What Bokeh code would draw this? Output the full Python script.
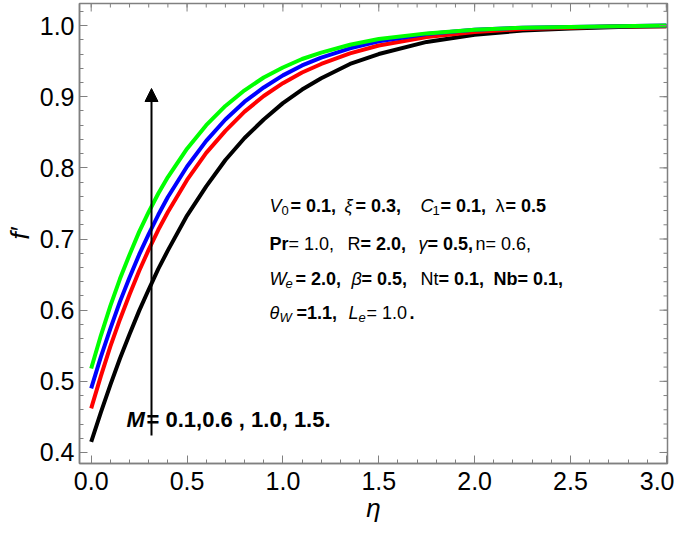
from bokeh.plotting import figure
from bokeh.models import Range1d, Label, Arrow, NormalHead, SingleIntervalTicker, NumeralTickFormatter
from bokeh.embed import file_html
from bokeh.resources import INLINE

# ---- data ----
eta = [0.0, 0.05, 0.1, 0.15, 0.2, 0.25, 0.3, 0.35, 0.4, 0.5, 0.6, 0.7, 0.8, 0.9, 1.0,
       1.1, 1.2, 1.35, 1.5, 1.75, 2.0, 2.25, 2.5, 2.75, 3.0]
f_M01 = [0.415, 0.456, 0.495, 0.532, 0.566, 0.599, 0.629, 0.658, 0.684, 0.733, 0.774, 0.811, 0.842,
         0.868, 0.891, 0.910, 0.926, 0.946, 0.960, 0.977, 0.987, 0.993, 0.996, 0.998, 0.999]
f_M06 = [0.462, 0.507, 0.549, 0.587, 0.622, 0.655, 0.685, 0.713, 0.738, 0.783, 0.821, 0.852, 0.879,
         0.901, 0.919, 0.934, 0.946, 0.961, 0.972, 0.984, 0.991, 0.995, 0.997, 0.999, 0.999]
f_M10 = [0.490, 0.534, 0.574, 0.612, 0.646, 0.678, 0.707, 0.734, 0.759, 0.802, 0.838, 0.868, 0.893,
         0.913, 0.930, 0.944, 0.955, 0.968, 0.978, 0.988, 0.994, 0.997, 0.998, 0.999, 1.0]
f_M15 = [0.518, 0.564, 0.606, 0.644, 0.678, 0.710, 0.738, 0.764, 0.787, 0.827, 0.860, 0.887, 0.909,
         0.927, 0.941, 0.953, 0.962, 0.973, 0.981, 0.989, 0.994, 0.997, 0.998, 0.999, 1.0]
series = [f_M01, f_M06, f_M10, f_M15]
colors = ["#000000", "#ff0000", "#0000ff", "#00ff00"]

x_major = [0.0, 0.5, 1.0, 1.5, 2.0, 2.5, 3.0]
y_major = [0.4, 0.5, 0.6, 0.7, 0.8, 0.9, 1.0]
x_minor = [i / 10 for i in range(31)]
y_minor = [0.4 + i * 0.02 for i in range(32)]

X0, X1 = -0.061, 3.006
Y0, Y1 = 0.3845, 1.031
FW, FH = 588, 460

GRAY = "#808080"
FONT = "Liberation Sans"

p = figure(frame_width=FW, frame_height=FH, output_backend="svg", toolbar_location=None,
           x_range=Range1d(X0, X1), y_range=Range1d(Y0, Y1),
           min_border_left=79, min_border_right=7, min_border_top=3, min_border_bottom=66)
p.background_fill_color = "white"
p.border_fill_color = "white"
p.outline_line_color = GRAY
p.outline_line_width = 1.5
p.grid.visible = False

for ys, c in zip(series, colors):
    p.line(eta, ys, line_color=c, line_width=4)

def style_axis(ax):
    ax.axis_line_color = GRAY
    ax.axis_line_width = 1.5
    ax.major_tick_line_color = GRAY
    ax.minor_tick_line_color = GRAY
    ax.major_tick_in = 8
    ax.major_tick_out = 0
    ax.minor_tick_in = 4
    ax.minor_tick_out = 0
    ax.major_label_text_font = FONT
    ax.major_label_text_font_size = "25px"
    ax.major_label_text_color = "black"
    ax.formatter = NumeralTickFormatter(format="0.0")
    ax.axis_label_text_font = FONT
    ax.axis_label_text_font_style = "italic"
    ax.axis_label_text_font_size = "26px"
    ax.axis_label_text_color = "black"

xa = p.xaxis[0]
xa.ticker = SingleIntervalTicker(interval=0.5, num_minor_ticks=5)
style_axis(xa)
xa.major_label_standoff = 8
xa.axis_label = "η"
xa.axis_label_standoff = 0

ya = p.yaxis[0]
ya.ticker = SingleIntervalTicker(interval=0.1, num_minor_ticks=5)
style_axis(ya)
ya.major_label_standoff = 5
ya.axis_label = "f′"
ya.axis_label_standoff = 2

# ticks on the top and right frame edges (pointing inward)
px_x = (X1 - X0) / FW
px_y = (Y1 - Y0) / FH
p.segment(x0=x_minor, y0=[Y1] * len(x_minor), x1=x_minor, y1=[Y1 - 4 * px_y] * len(x_minor),
          line_color=GRAY, line_width=1)
p.segment(x0=x_major, y0=[Y1] * len(x_major), x1=x_major, y1=[Y1 - 8 * px_y] * len(x_major),
          line_color=GRAY, line_width=1)
p.segment(x0=[X1] * len(y_minor), y0=y_minor, x1=[X1 - 4 * px_x] * len(y_minor), y1=y_minor,
          line_color=GRAY, line_width=1)
p.segment(x0=[X1] * len(y_major), y0=y_major, x1=[X1 - 8 * px_x] * len(y_major), y1=y_major,
          line_color=GRAY, line_width=1)

# pixel -> data helpers for annotation placement (reference pixels)
def dx(px):
    return X0 + (px - 82) / FW * (X1 - X0)

def dy(py):
    return Y1 - (py - 3) / FH * (Y1 - Y0)

# arrow
p.add_layout(Arrow(end=NormalHead(size=13, fill_color="black", line_color="black"),
                   x_start=dx(154), y_start=dy(435), x_end=dx(154), y_end=dy(88),
                   line_color="black", line_width=2))

# parameter text block
BIG, SUB = 18, 13
line_y = [205, 243, 278, 312]
segments = [
    [(272, "V", "italic", BIG, 0), (284, "0", "normal", SUB, 5), (293, "= 0.1,", "bold", BIG, 0),
     (347, "ξ", "italic", BIG, 0), (358, "= 0.3,", "bold", BIG, 0),
     (423, "C", "italic", BIG, 0), (435, "1", "normal", SUB, 5), (443, "= 0.1,", "bold", BIG, 0),
     (498, "λ", "normal", BIG, 0), (508, "= 0.5", "bold", BIG, 0)],
    [(272, "Pr", "bold", BIG, 0), (291, "= 1.0,", "normal", BIG, 0),
     (350, "R", "normal", BIG, 0), (363, "= 2.0,", "bold", BIG, 0),
     (421, "γ", "italic", BIG, 0), (430, "= 0.5,", "bold", BIG, 0),
     (478, "n= 0.6,", "normal", BIG, 0)],
    [(272, "W", "italic", BIG, 0), (288, "e", "italic", SUB, 5), (298, "= 2.0,", "bold", BIG, 0),
     (354, "β", "italic", BIG, 0), (364, "= 0.5,", "bold", BIG, 0),
     (423, "Nt", "normal", BIG, 0), (441, "= 0.1,", "bold", BIG, 0),
     (496, "Nb", "bold", BIG, 0), (520, "= 0.1,", "bold", BIG, 0)],
    [(272, "θ", "italic", BIG, 0), (282, "W", "italic", SUB, 5), (299, "=1.1,", "bold", BIG, 0),
     (351, "L", "italic", BIG, 0), (361, "e", "italic", SUB, 5), (369, "= 1.0", "normal", BIG, 0),
     (412, ".", "bold", BIG, 0)],
]
for ly, segs in zip(line_y, segments):
    for px, txt, st, sz, off in segs:
        p.add_layout(Label(x=dx(px), y=dy(ly + off), text=txt, text_font=FONT,
                           text_font_style=st, text_font_size=f"{sz}px",
                           text_baseline="middle", text_align="left", text_color="black"))

p.add_layout(Label(x=dx(129), y=dy(419), text="M", text_font=FONT, text_font_style="bold italic",
                   text_font_size="22px", text_baseline="middle", text_align="left",
                   text_color="black"))
p.add_layout(Label(x=dx(149), y=dy(419), text="= 0.1,0.6 , 1.0, 1.5.", text_font=FONT,
                   text_font_style="bold", text_font_size="22px", text_baseline="middle",
                   text_align="left", text_color="black"))

open("out.html", "w").write(file_html(p, INLINE))
